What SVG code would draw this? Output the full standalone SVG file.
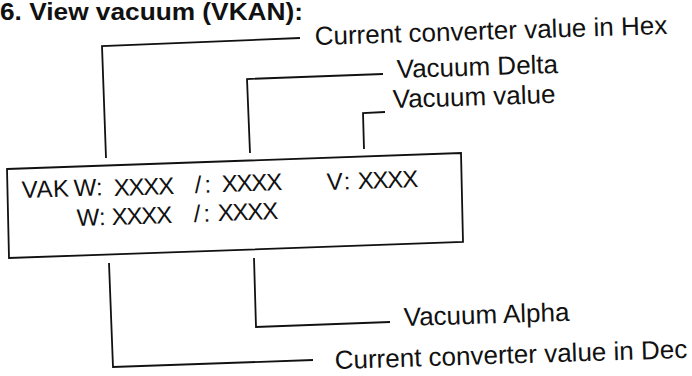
<svg xmlns="http://www.w3.org/2000/svg" width="692" height="376" viewBox="0 0 692 376">
<style>
.ln{fill:none;stroke:#111;stroke-width:1.8;stroke-linejoin:miter}
.lbl{font-family:"Liberation Sans",Arial,Helvetica,sans-serif;font-size:26px;fill:#111}
.bt{font-family:"Liberation Sans",Arial,Helvetica,sans-serif;font-size:24px;fill:#111}
.xx{letter-spacing:-1.2px}
.ttl{font-family:"Liberation Sans",Arial,Helvetica,sans-serif;font-size:23px;font-weight:bold;fill:#111}
</style>
<rect width="692" height="376" fill="#fff"/>
<g id="title">
<text class="ttl" x="0" y="20" textLength="303" lengthAdjust="spacingAndGlyphs">6. View vacuum (VKAN):</text>
</g>
<g id="display-box">
<polygon class="ln" points="7,169 461,153 463,242 9,258"/>
<text class="bt" transform="rotate(-2 22 198)" x="22" y="198"><tspan letter-spacing="0.5">VAK</tspan><tspan x="74">W:</tspan></text>
<text class="bt xx" x="114" y="196" transform="rotate(-2 114 196)">XXXX</text>
<text class="bt" x="195" y="193" letter-spacing="3" transform="rotate(-2 195 193)">/:</text>
<text class="bt xx" x="222" y="192" transform="rotate(-2 222 192)">XXXX</text>
<text class="bt" x="327" y="190" letter-spacing="2" transform="rotate(-2 327 190)">V:</text>
<text class="bt xx" x="358" y="189" transform="rotate(-2 358 189)">XXXX</text>
<text class="bt" x="77" y="226" transform="rotate(-2 77 226)">W:</text>
<text class="bt xx" x="112" y="225" transform="rotate(-2 112 225)">XXXX</text>
<text class="bt" x="194" y="222" letter-spacing="3" transform="rotate(-2 194 222)">/:</text>
<text class="bt xx" x="218" y="221" transform="rotate(-2 218 221)">XXXX</text>
</g>
<g id="label-hex">
<text class="lbl" x="315" y="45" transform="rotate(-1.8 315 45)">Current converter value in Hex</text>
</g>
<g id="label-delta">
<text class="lbl" x="397" y="78" transform="rotate(-1.8 397 78)">Vacuum Delta</text>
</g>
<g id="label-value">
<text class="lbl" x="393" y="108" transform="rotate(-1.8 393 108)">Vacuum value</text>
</g>
<g id="label-alpha">
<text class="lbl" x="404" y="326" transform="rotate(-1.8 404 326)">Vacuum Alpha</text>
</g>
<g id="label-dec">
<text class="lbl" x="335" y="369" transform="rotate(-1.8 335 369)">Current converter value in Dec</text>
</g>
<g id="connectors">
<polyline class="ln" points="300,38 102,46 106,158"/>
<polyline class="ln" points="383,74 247,79 250,153"/>
<polyline class="ln" points="385,112 363,113 364,149"/>
<polyline class="ln" points="254,258 256,327 390,322"/>
<polyline class="ln" points="109,263 113,367 313,360"/>
</g>
</svg>
